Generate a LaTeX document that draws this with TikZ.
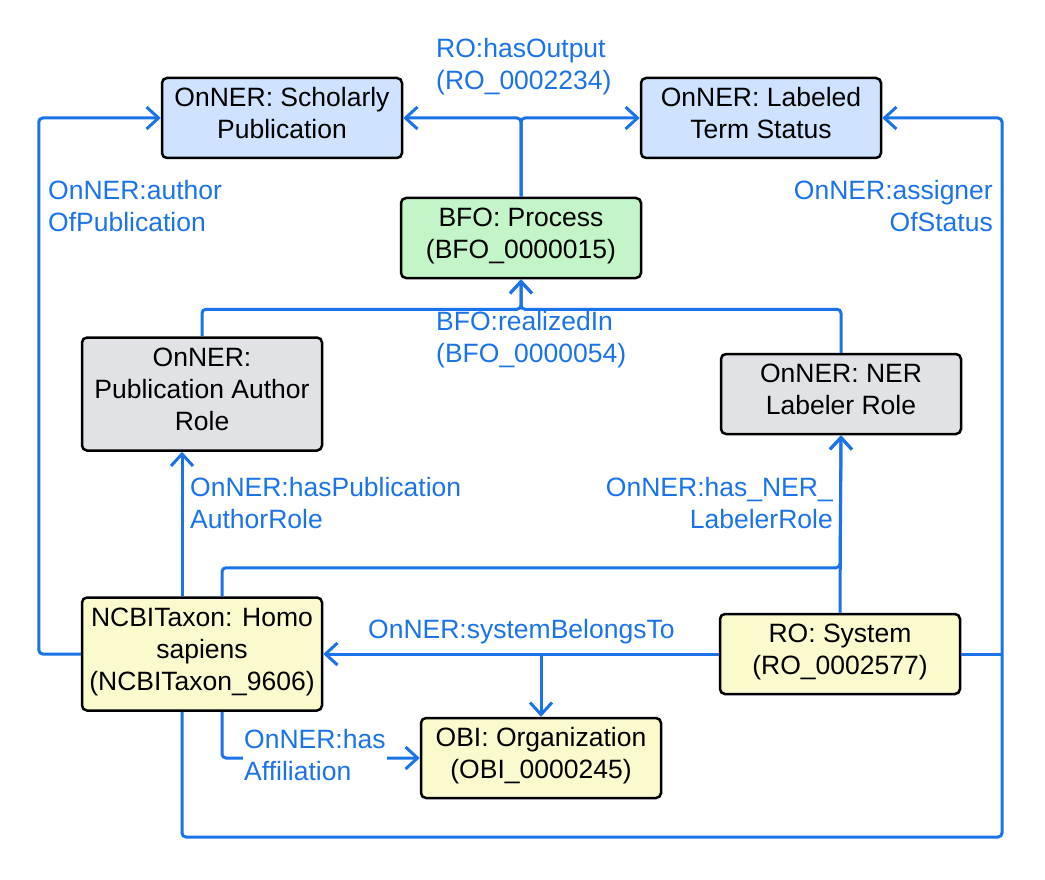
\documentclass[tikz,border=0pt]{standalone}
\usepackage{fontspec}
\setmainfont{Liberation Sans}
\usetikzlibrary{arrows.meta}
\definecolor{relblue}{RGB}{26,115,232}
\definecolor{clsblue}{RGB}{207,226,255}
\definecolor{clsgreen}{RGB}{196,245,200}
\definecolor{clsgray}{RGB}{224,226,230}
\definecolor{clsyellow}{RGB}{251,250,204}
\begin{document}
\begin{tikzpicture}[x=1pt,y=-1pt,
    box/.style={draw,line width=2.5pt,rounded corners=5pt,minimum width=240pt,
      minimum height=80pt,align=center,font=\fontsize{26.5}{32}\selectfont,
      execute at begin node=\strut,execute at end node=\strut},
    rel/.style={draw=relblue,line width=3pt,rounded corners=4pt,
      -{Straight Barb[length=12pt,width=22pt]}},
    relmerge/.style={draw=relblue,line width=3pt,rounded corners=4pt},
    lbl/.style={text=relblue,inner sep=1pt,font=\fontsize{26.5}{32}\selectfont}]
  \useasboundingbox (0,0) rectangle (1045,880);
  % classes
  \node[box,fill=clsblue] (pub) at (282,118) {OnNER: Scholarly\\Publication};
  \node[box,fill=clsblue] (status) at (761,118) {OnNER: Labeled\\Term Status};
  \node[box,fill=clsgreen] (proc) at (521,238) {BFO: Process\\(BFO\_0000015)};
  \node[box,fill=clsgray,minimum height=113pt] (authrole) at (202,394) %
    {OnNER:\\Publication Author\\Role};
  \node[box,fill=clsgray] (nerrole) at (841,394) {OnNER: NER\\Labeler Role};
  \node[box,fill=clsyellow,minimum height=113pt] (homo) at (202,654) %
    {NCBITaxon: Homo\\sapiens\\(NCBITaxon\_9606)};
  \node[box,fill=clsyellow] (sys) at (840,654) {RO: System\\(RO\_0002577)};
  \node[box,fill=clsyellow] (org) at (541,758) {OBI: Organization\\(OBI\_0000245)};
  \coordinate (se) at (1002,837);
  % relations
  \draw[rel] (proc.north) |- (pub.east);
  \draw[rel] (proc.north) |- (status.west);
  \draw[rel] (homo.west) -- ++(-42,0) |- (pub.west);
  \draw[rel] ([xshift=-20pt]homo.south) |- (se) |- (status.east);
  \draw[relmerge] (sys.east) -- (sys.east -| se);
  \draw[rel] (authrole.north) |- ([yshift=-30pt]proc.south) -- (proc.south);
  \draw[rel] (nerrole.north) |- ([yshift=-30pt]proc.south) -- (proc.south);
  \draw[rel] ([xshift=-20pt]homo.north) -- ([xshift=-20pt]authrole.south);
  \draw[rel] ([xshift=20pt]homo.north) |- ([yshift=45pt]sys.north) -- (nerrole.south);
  \draw[rel] (sys.north) -- (nerrole.south);
  \draw[rel] (sys.west) -- (homo.east);
  \draw[rel] (sys.west -| org.north) -- (org.north);
  \draw[rel] ([xshift=20pt]homo.south) |- (org.west);
  % labels
  \node[lbl,anchor=west,align=left] at (435,67) {RO:hasOutput\\(RO\_0002234)};
  \node[lbl,anchor=west,align=left] at (47,206) {OnNER:author\\OfPublication};
  \node[lbl,anchor=east,align=right] at (994,206) {OnNER:assigner\\OfStatus};
  \node[lbl,anchor=west,align=left] at (435,340) {BFO:realizedIn\\(BFO\_0000054)};
  \node[lbl,anchor=west,align=left] at (189,503) {OnNER:hasPublication\\AuthorRole};
  \node[lbl,anchor=east,align=right] at (834,503) {OnNER:has\_NER\_\\LabelerRole};
  \node[lbl,anchor=base west] at (367,638) {OnNER:systemBelongsTo};
  \node[lbl,anchor=west,align=left,fill=white] at (243,755) {OnNER:has\\Affiliation};
\end{tikzpicture}
\end{document}
